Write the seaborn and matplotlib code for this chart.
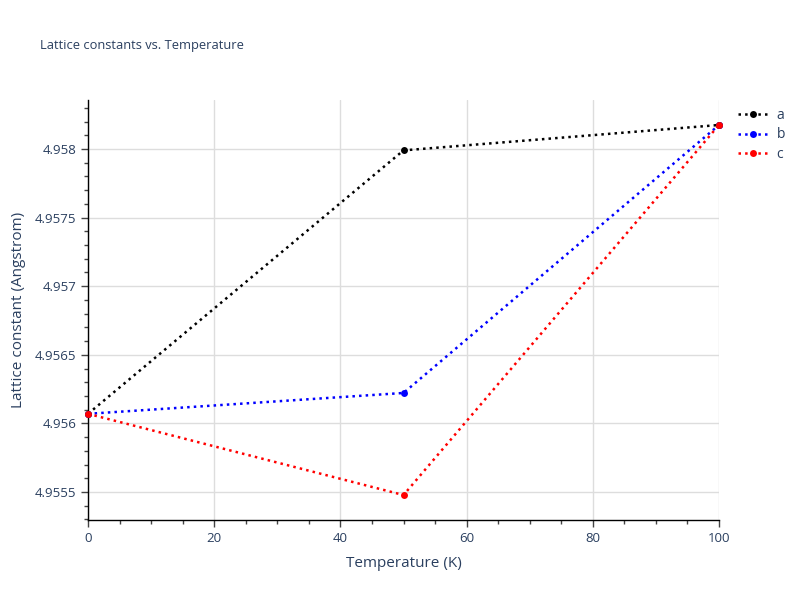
import pandas as pd
import numpy as np
import seaborn as sns
import matplotlib.pyplot as plt
from matplotlib.ticker import MultipleLocator, FuncFormatter

temperature = [0, 50, 100]
lattice_a = [4.95607, 4.95799, 4.958175]
lattice_b = [4.95607, 4.956222, 4.958175]
lattice_c = [4.95607, 4.955478, 4.958175]
series_names = ['a', 'b', 'c']
series_colors = ['black', 'blue', 'red']

df = pd.DataFrame({
    'Temperature': temperature * 3,
    'Lattice': lattice_a + lattice_b + lattice_c,
    'Param': [n for n in series_names for _ in temperature],
})

sns.set_style('white')
plt.rcParams['font.family'] = ['Open Sans', 'DejaVu Sans']
text_color = '#2a3f5f'

fig = plt.figure(figsize=(8, 6), dpi=100)
ax = fig.add_axes([0.11, 0.1333, 0.78875, 0.7])

ax = sns.lineplot(data=df, x='Temperature', y='Lattice', hue='Param',
                  palette=dict(zip(series_names, series_colors)),
                  linestyle=':', linewidth=1.8, marker='o', markersize=5,
                  markeredgewidth=0, ax=ax, clip_on=False, zorder=3)

ax.set_xlim(0, 100)
ax.set_ylim(4.955296, 4.958357)
ax.xaxis.set_major_locator(MultipleLocator(20))
ax.xaxis.set_minor_locator(MultipleLocator(5))
ax.yaxis.set_major_locator(MultipleLocator(0.0005))
ax.yaxis.set_minor_locator(MultipleLocator(0.0001))
ax.yaxis.set_major_formatter(FuncFormatter(lambda v, p: ('%.4f' % v).rstrip('0').rstrip('.')))

ax.grid(True, which='major', color='#dddddd', linewidth=1)
ax.set_axisbelow(True)
for s in ['top', 'right']:
    ax.spines[s].set_visible(False)
for s in ['left', 'bottom']:
    ax.spines[s].set_color('black')
    ax.spines[s].set_linewidth(1)

ax.tick_params(axis='both', which='major', direction='out', length=5, width=1,
               color='#444444', labelsize=9.5, labelcolor=text_color, left=True, bottom=True)
ax.tick_params(axis='both', which='minor', direction='out', length=3, width=1,
               color='#444444', left=True, bottom=True)

ax.set_xlabel('Temperature (K)', fontsize=11, color=text_color, labelpad=8)
ax.set_ylabel('Lattice constant (Angstrom)', fontsize=11, color=text_color, labelpad=6)
fig.text(0.05, 0.925, 'Lattice constants vs. Temperature', fontsize=9.3,
         color=text_color, va='center')

leg = ax.legend(loc='upper left', bbox_to_anchor=(1.01, 1.01), frameon=False,
                fontsize=10, handlelength=2.2, handletextpad=0.6, labelspacing=0.3)
for t in leg.get_texts():
    t.set_color(text_color)

plt.savefig('out.png', dpi=100)
